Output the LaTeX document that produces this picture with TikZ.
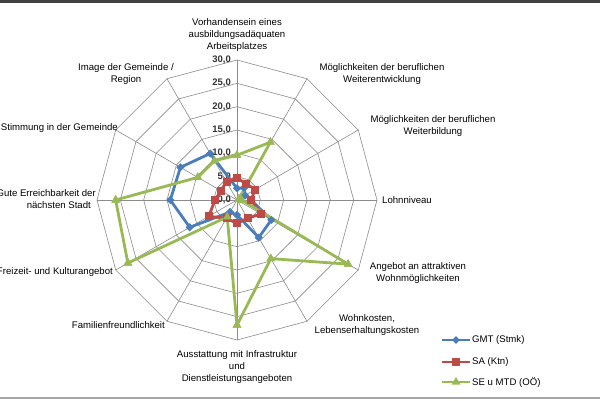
\documentclass[tikz,border=0pt]{standalone}
\usepackage{fontspec}
\setmainfont{Liberation Sans}
\usetikzlibrary{shapes.geometric}
\definecolor{cb}{HTML}{4A7EBB}
\definecolor{cr}{HTML}{BE4B48}
\definecolor{cg}{HTML}{98B954}
\begin{document}
\begin{tikzpicture}[x=1pt,y=1pt,
  lab/.style={font=\fontsize{9.6}{12}\selectfont,align=center,inner sep=0pt},
  tick/.style={font=\bfseries\fontsize{9.5}{10}\selectfont,inner sep=0pt,text=black!80},
  grid/.style={draw=gray!90,line width=0.6pt},
  mb/.style={diamond,fill=cb,inner sep=0pt,minimum size=8pt},
  mr/.style={rectangle,fill=cr,inner sep=0pt,minimum size=8pt},
  mg/.style={regular polygon,regular polygon sides=3,fill=cg,inner sep=0pt,minimum size=10pt},
  ser/.style={line width=2.8pt,line join=round}]
\useasboundingbox (0,0) rectangle (600,400);
\clip (0,0) rectangle (600,400);
\fill[white] (0,0) rectangle (600,400);
\draw[line width=3pt,black!75] (0,398.5) -- (600,398.5);
\draw[line width=1.5pt,gray!70] (0,2) -- (600,2);
\begin{scope}[shift={(237,200)}]
\def\k{4.667}
\foreach \v in {5,10,...,30}{
  \draw[grid] (90:\v*\k)
  \foreach \i in {1,...,11}{ -- (90-30*\i:\v*\k)} -- cycle;}
\foreach \i in {0,...,11}{\draw[grid] (0,0) -- (90-30*\i:30*\k);}
\foreach \v/\t in {0/0,5/5,10/10,15/15,20/20,25/25,30/30}{
  \node[tick,anchor=east] at (-6,\v*\k) {\t,0};}
\foreach \s/\st/\vals in {b/mb/{2.5,3,2,3,8.5,9.3,3.2,3,11.7,14.3,14,11.5},
                          r/mr/{4.7,4,4.5,3,6,4.5,5,4.5,7,4.7,4,4.5},
                          g/mg/{9.6,14.3,0.5,1,27.5,14.5,26.8,4.2,27,26,9.7,9.7}}{
  \foreach \v [count=\i from 0] in \vals{
    \node[\st] (\s\i) at (90-30*\i:\v*\k) {};}
}
\foreach \s/\c in {b/cb,r/cr,g/cg}{
  \draw[ser,\c] (\s0.center) -- (\s1.center) -- (\s2.center) -- (\s3.center) -- (\s4.center) -- (\s5.center) -- (\s6.center) -- (\s7.center) -- (\s8.center) -- (\s9.center) -- (\s10.center) -- (\s11.center) -- cycle;}
\foreach \s/\st in {b/mb,r/mr,g/mg}{
  \foreach \i in {0,...,11}{\node[\st] at (\s\i) {};}}
\end{scope}
\node[lab] (l0) at (237,365) {Vorhandensein eines\\ausbildungsadäquaten\\Arbeitsplatzes};
\node[lab] (l1) at (382,326) {Möglichkeiten der beruflichen\\Weiterentwicklung};
\node[lab] (l2) at (433,274) {Möglichkeiten der beruflichen\\Weiterbildung};
\node[lab,anchor=west] (l3) at (382,200) {Lohnniveau};
\node[lab] (l4) at (418,127) {Angebot an attraktiven\\Wohnmöglichkeiten};
\node[lab] (l5) at (367,75) {Wohnkosten,\\Lebenserhaltungskosten};
\node[lab] (l6) at (237,33) {Ausstattung mit Infrastruktur\\und\\Dienstleistungsangeboten};
\node[lab,anchor=east] (l7) at (165,75) {Familienfreundlichkeit};
\node[lab,anchor=east] (l8) at (113,128) {Freizeit- und Kulturangebot};
\node[lab,align=right,anchor=east] (l9) at (96,201) {Gute Erreichbarkeit der\\nächsten Stadt\hspace*{5pt}};
\node[lab,anchor=east] (l10) at (118,272) {Stimmung in der Gemeinde};
\node[lab] (l11) at (126,326) {Image der Gemeinde /\\Region};
\foreach \c/\st/\y/\t in {cb/mb/60/GMT (Stmk),cr/mr/38/SA (Ktn),cg/mg/18/SE u MTD (OÖ)}{
  \coordinate (a\y) at (442,\y); \coordinate (e\y) at (470,\y);
  \draw[\c,line width=2.8pt] (a\y) -- (e\y);
  \node[\st] at (456,\y) {};
  \node[lab,anchor=west] at (472,\y) {\t};}
\end{tikzpicture}
\end{document}
